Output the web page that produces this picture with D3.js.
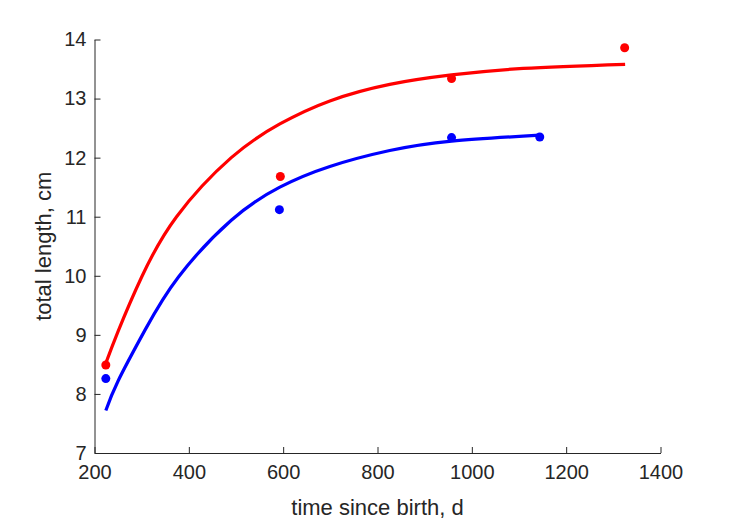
<!DOCTYPE html>
<html>
<head>
<meta charset="utf-8">
<script src="https://cdn.jsdelivr.net/npm/d3@7"></script>
<style>
  html, body { margin: 0; padding: 0; background: #fff; }
  svg { display: block; font-family: "Liberation Sans", Arial, Helvetica, sans-serif; }
</style>
</head>
<body>
<svg id="chart" width="729" height="521"></svg>
<script>
// Observed data points
const redObsX = [224, 594, 957, 1324];
const redObsY = [8.49, 11.68, 13.34, 13.86];
const blueObsX = [224, 592, 957, 1144];
const blueObsY = [8.26, 11.12, 12.34, 12.35];

// Fitted curves
const redFitX = [224, 250, 300, 374, 490, 593, 699, 826, 957, 1109, 1325];
const redFitY = [8.52, 9.06, 9.98, 11.0, 12.0, 12.57, 12.96, 13.24, 13.40, 13.51, 13.58];
const blueFitX = [224, 250, 307, 378, 490, 593, 699, 826, 957, 1144];
const blueFitY = [7.72, 8.22, 9.08, 9.98, 10.94, 11.50, 11.85, 12.12, 12.28, 12.38];

// Axes
const xTicks = [200, 400, 600, 800, 1000, 1200, 1400];
const yTicks = [7, 8, 9, 10, 11, 12, 13, 14];
const xLabel = "time since birth, d";
const yLabel = "total length, cm";

const svg = d3.select("#chart");
const x = d3.scaleLinear().domain([200, 1400]).range([94.5, 660.5]);
const y = d3.scaleLinear().domain([7, 14]).range([453, 39.5]);
const ink = "#262626";

const line = d3.line().x(d => x(d[0])).y(d => y(d[1])).curve(d3.curveNatural);

const series = [
  { fx: redFitX, fy: redFitY, ox: redObsX, oy: redObsY, color: "#ff0000" },
  { fx: blueFitX, fy: blueFitY, ox: blueObsX, oy: blueObsY, color: "#0000ff" }
];

// Axes
const fmt = d3.format("d");
const xAxis = d3.axisBottom(x).tickValues(xTicks).tickFormat(fmt).tickSizeInner(-6).tickSizeOuter(0).tickPadding(12);
const yAxis = d3.axisLeft(y).tickValues(yTicks).tickFormat(fmt).tickSizeInner(-6).tickSizeOuter(0).tickPadding(8);

const gx = svg.append("g").attr("transform", `translate(0,${y(7)})`).call(xAxis);
const gy = svg.append("g").attr("transform", `translate(${x(200)},0)`).call(yAxis);
[gx, gy].forEach(g => {
  g.attr("font-size", 20).attr("font-family", "'Liberation Sans', Arial, sans-serif");
  g.select(".domain").attr("stroke", ink).attr("stroke-width", 1);
  g.selectAll(".tick line").attr("stroke", ink).attr("stroke-width", 1);
  g.selectAll(".tick text").attr("fill", ink);
});
gx.selectAll(".tick text").attr("dy", "0.71em");

// Lines and points
series.forEach(s => {
  const pts = s.fx.map((v, i) => [v, s.fy[i]]);
  svg.append("path").datum(pts)
    .attr("d", line)
    .attr("fill", "none")
    .attr("stroke", s.color)
    .attr("stroke-width", 3.2);
});
series.forEach(s => {
  svg.append("g").selectAll("circle")
    .data(s.ox.map((v, i) => [v, s.oy[i]]))
    .join("circle")
    .attr("cx", d => x(d[0]))
    .attr("cy", d => y(d[1]))
    .attr("r", 4.5)
    .attr("fill", s.color);
});

// Labels
svg.append("text")
  .attr("x", (x(200) + x(1400)) / 2)
  .attr("y", 515)
  .attr("text-anchor", "middle")
  .attr("font-size", 22)
  .attr("fill", ink)
  .text(xLabel);

svg.append("text")
  .attr("transform", `translate(51,${(y(7) + y(14)) / 2}) rotate(-90)`)
  .attr("text-anchor", "middle")
  .attr("font-size", 22)
  .attr("fill", ink)
  .text(yLabel);
</script>
</body>
</html>
